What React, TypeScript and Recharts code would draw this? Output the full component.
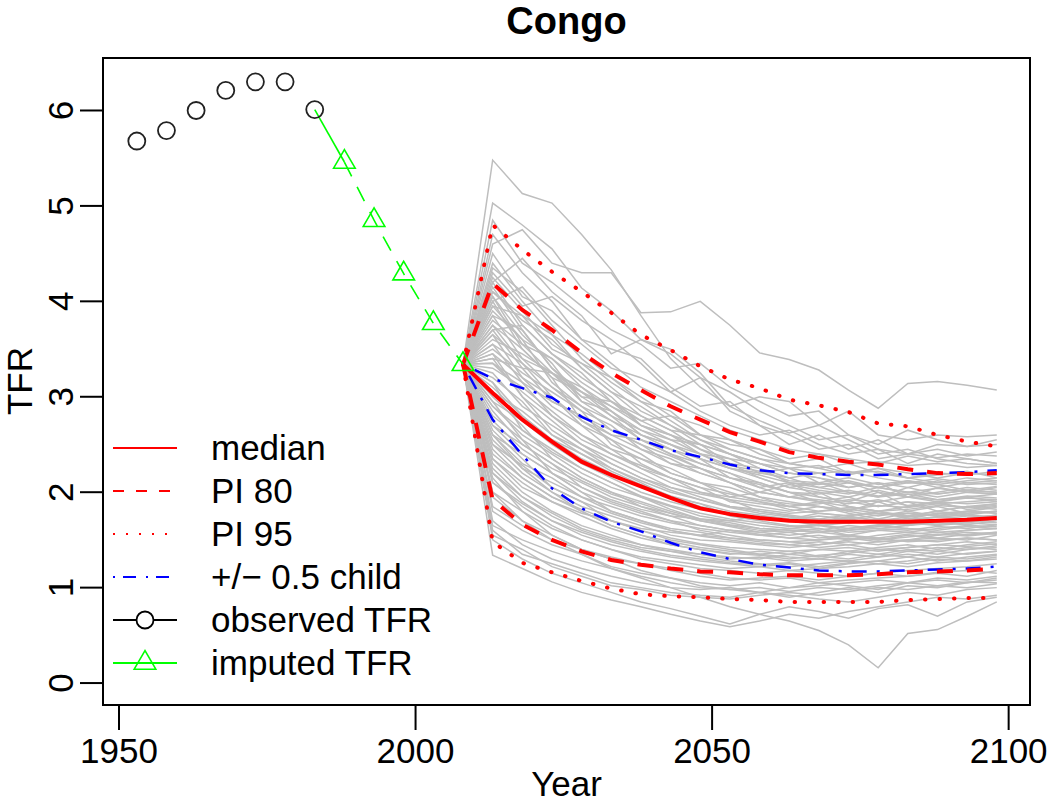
import React from 'react';
import { LineChart, Line, XAxis, YAxis, ReferenceArea } from 'recharts';

const FONT = '"Liberation Sans", Arial, sans-serif';

// observed and imputed past TFR
const observedYears = [1953, 1958, 1963, 1968, 1973, 1978, 1983];
const observedTFR = [5.68, 5.79, 6.0, 6.21, 6.3, 6.3, 6.01];
const imputedYears = [1988, 1993, 1998, 2003, 2008];
const imputedTFR = [5.46, 4.85, 4.29, 3.77, 3.34];

// projection periods
const projYears = [2008, 2013, 2018, 2023, 2028, 2033, 2038, 2043, 2048, 2053, 2058, 2063, 2068, 2073, 2078, 2083, 2088, 2093, 2098];
const median = [3.34, 3.04, 2.76, 2.53, 2.32, 2.18, 2.06, 1.94, 1.83, 1.77, 1.73, 1.7, 1.69, 1.69, 1.69, 1.69, 1.7, 1.71, 1.73];
const pi80Upper = [3.34, 4.19, 3.91, 3.7, 3.46, 3.25, 3.07, 2.9, 2.76, 2.63, 2.53, 2.42, 2.36, 2.32, 2.29, 2.24, 2.2, 2.19, 2.2];
const pi80Lower = [3.34, 1.92, 1.66, 1.5, 1.38, 1.29, 1.24, 1.2, 1.17, 1.16, 1.14, 1.13, 1.13, 1.13, 1.14, 1.16, 1.17, 1.18, 1.2];
const pi95Upper = [3.34, 4.8, 4.54, 4.31, 4.1, 3.88, 3.65, 3.49, 3.32, 3.18, 3.09, 2.97, 2.91, 2.84, 2.72, 2.69, 2.6, 2.53, 2.48];
const pi95Lower = [3.34, 1.48, 1.26, 1.16, 1.07, 0.99, 0.93, 0.91, 0.9, 0.88, 0.87, 0.85, 0.85, 0.85, 0.85, 0.87, 0.88, 0.89, 0.89];
const halfChildUp = [3.34, 3.19, 3.09, 2.99, 2.79, 2.65, 2.55, 2.44, 2.37, 2.29, 2.23, 2.2, 2.19, 2.18, 2.18, 2.19, 2.2, 2.21, 2.23];
const halfChildLow = [3.34, 2.76, 2.39, 2.04, 1.83, 1.69, 1.59, 1.47, 1.37, 1.3, 1.24, 1.21, 1.18, 1.17, 1.17, 1.18, 1.19, 1.2, 1.22];

// individual trajectories (gray)
const trajectories = [
  [3.34, 5.48, 5.13, 5.03, 4.7, 4.33, 3.85, 3.4, 3.1, 2.9, 2.75, 2.62, 2.7, 2.55, 2.4, 2.45, 2.35, 2.3, 2.28],
  [3.34, 5.03, 4.8, 4.55, 4.14, 3.9, 3.6, 3.45, 3.2, 3.05, 2.85, 2.7, 2.55, 2.6, 2.45, 2.3, 2.4, 2.35, 2.3],
  [3.34, 4.6, 4.75, 4.4, 4.3, 4.3, 3.88, 3.89, 4.0, 3.75, 3.46, 3.39, 3.28, 3.07, 2.88, 3.14, 3.16, 3.12, 3.07],
  [3.34, 4.85, 4.4, 4.2, 3.95, 3.7, 3.55, 3.3, 3.35, 3.1, 2.95, 2.8, 2.85, 2.6, 2.5, 2.65, 2.55, 2.48, 2.5],
  [3.34, 4.2, 4.45, 4.1, 3.85, 3.45, 3.6, 3.5, 3.25, 2.9, 3.0, 2.95, 2.7, 2.85, 2.6, 2.55, 2.6, 2.58, 2.6],
  [3.34, 4.3, 3.95, 4.05, 3.8, 3.6, 3.35, 3.05, 3.2, 2.85, 2.7, 2.5, 2.6, 2.45, 2.55, 2.4, 2.5, 2.48, 2.55],
  [3.34, 4.1, 3.8, 3.6, 3.3, 3.05, 2.9, 2.7, 2.55, 2.4, 2.3, 2.2, 2.15, 2.1, 2.05, 2.0, 1.95, 2.0, 1.98],
  [3.34, 3.95, 3.85, 3.5, 3.35, 3.2, 2.95, 2.85, 2.6, 2.5, 2.45, 2.3, 2.35, 2.2, 2.25, 2.15, 2.1, 2.15, 2.12],
  [3.34, 3.8, 3.55, 3.4, 3.1, 2.9, 2.75, 2.6, 2.4, 2.35, 2.2, 2.25, 2.1, 2.05, 2.1, 1.95, 2.05, 2.0, 2.05],
  [3.34, 4.15, 3.7, 3.3, 3.05, 2.8, 2.55, 2.45, 2.3, 2.2, 2.05, 2.1, 1.95, 1.9, 2.0, 1.85, 1.9, 1.95, 1.9],
  [3.34, 3.6, 3.45, 3.25, 2.95, 2.85, 2.6, 2.5, 2.35, 2.15, 2.1, 2.0, 1.9, 1.95, 1.85, 1.9, 1.8, 1.85, 1.88],
  [3.34, 3.9, 3.6, 3.15, 2.9, 2.65, 2.5, 2.3, 2.25, 2.1, 2.0, 1.95, 2.0, 1.85, 1.8, 1.85, 1.9, 1.82, 1.85],
  [3.34, 3.7, 3.75, 3.45, 3.2, 3.0, 2.7, 2.55, 2.5, 2.3, 2.15, 2.05, 2.1, 2.0, 1.95, 2.05, 1.98, 2.02, 2.0],
  [3.34, 3.5, 3.25, 3.05, 2.85, 2.7, 2.45, 2.35, 2.2, 2.1, 1.95, 1.9, 1.85, 1.8, 1.9, 1.8, 1.85, 1.78, 1.8],
  [3.34, 4.0, 3.5, 3.2, 2.75, 2.55, 2.4, 2.2, 2.1, 2.05, 1.95, 1.85, 1.9, 1.8, 1.75, 1.8, 1.75, 1.8, 1.78],
  [3.34, 3.4, 3.3, 2.95, 2.8, 2.6, 2.55, 2.4, 2.25, 2.15, 2.05, 1.95, 1.9, 1.85, 1.8, 1.75, 1.8, 1.85, 1.82],
  [3.34, 3.85, 3.4, 3.1, 2.85, 2.5, 2.35, 2.25, 2.1, 1.95, 1.9, 1.85, 1.8, 1.82, 1.78, 1.75, 1.8, 1.76, 1.8],
  [3.34, 3.65, 3.2, 2.9, 2.7, 2.55, 2.3, 2.15, 2.05, 1.9, 1.85, 1.8, 1.85, 1.78, 1.72, 1.78, 1.75, 1.72, 1.76],
  [3.34, 3.3, 3.1, 2.85, 2.6, 2.45, 2.35, 2.2, 2.1, 2.0, 1.9, 1.82, 1.78, 1.75, 1.8, 1.72, 1.78, 1.74, 1.75],
  [3.34, 4.05, 3.65, 3.35, 2.95, 2.75, 2.6, 2.45, 2.35, 2.25, 2.2, 2.15, 2.05, 2.1, 2.0, 1.95, 2.0, 2.05, 2.02],
  [3.34, 3.1, 2.8, 2.55, 2.35, 2.2, 2.05, 1.95, 1.85, 1.78, 1.72, 1.7, 1.65, 1.68, 1.7, 1.66, 1.7, 1.72, 1.74],
  [3.34, 2.9, 2.6, 2.4, 2.2, 2.05, 1.95, 1.85, 1.75, 1.7, 1.65, 1.62, 1.6, 1.65, 1.62, 1.65, 1.68, 1.66, 1.7],
  [3.34, 2.75, 2.45, 2.25, 2.1, 1.95, 1.85, 1.78, 1.7, 1.65, 1.6, 1.58, 1.62, 1.55, 1.6, 1.58, 1.62, 1.65, 1.64],
  [3.34, 2.6, 2.3, 2.15, 1.95, 1.85, 1.75, 1.68, 1.62, 1.58, 1.55, 1.52, 1.55, 1.5, 1.55, 1.58, 1.55, 1.6, 1.62],
  [3.34, 3.2, 2.95, 2.6, 2.45, 2.25, 2.1, 1.95, 1.88, 1.75, 1.7, 1.65, 1.62, 1.58, 1.6, 1.62, 1.58, 1.6, 1.62],
  [3.34, 2.5, 2.2, 2.0, 1.85, 1.75, 1.65, 1.55, 1.5, 1.48, 1.45, 1.42, 1.45, 1.48, 1.45, 1.5, 1.52, 1.5, 1.55],
  [3.34, 2.85, 2.5, 2.3, 2.05, 1.9, 1.8, 1.7, 1.6, 1.55, 1.5, 1.48, 1.5, 1.52, 1.48, 1.5, 1.55, 1.58, 1.56],
  [3.34, 2.4, 2.15, 1.95, 1.8, 1.65, 1.55, 1.45, 1.4, 1.35, 1.38, 1.35, 1.4, 1.38, 1.42, 1.45, 1.4, 1.45, 1.48],
  [3.34, 3.0, 2.7, 2.35, 2.15, 2.0, 1.85, 1.75, 1.65, 1.6, 1.55, 1.58, 1.52, 1.55, 1.5, 1.55, 1.52, 1.56, 1.58],
  [3.34, 2.3, 2.0, 1.8, 1.65, 1.55, 1.45, 1.4, 1.35, 1.3, 1.32, 1.28, 1.3, 1.35, 1.32, 1.38, 1.35, 1.4, 1.42],
  [3.34, 2.65, 2.35, 2.05, 1.9, 1.7, 1.6, 1.5, 1.45, 1.4, 1.35, 1.38, 1.33, 1.3, 1.35, 1.32, 1.38, 1.35, 1.38],
  [3.34, 2.2, 1.9, 1.7, 1.55, 1.45, 1.38, 1.32, 1.28, 1.25, 1.22, 1.25, 1.2, 1.25, 1.28, 1.25, 1.3, 1.28, 1.32],
  [3.34, 2.95, 2.55, 2.2, 2.0, 1.8, 1.7, 1.6, 1.55, 1.52, 1.48, 1.45, 1.42, 1.45, 1.4, 1.42, 1.45, 1.48, 1.45],
  [3.34, 2.1, 1.85, 1.65, 1.5, 1.4, 1.3, 1.25, 1.2, 1.18, 1.15, 1.18, 1.15, 1.12, 1.15, 1.18, 1.2, 1.22, 1.25],
  [3.34, 3.15, 2.65, 2.45, 2.25, 2.1, 1.95, 1.82, 1.72, 1.68, 1.62, 1.6, 1.58, 1.6, 1.62, 1.6, 1.64, 1.62, 1.66],
  [3.34, 2.55, 2.25, 2.1, 1.95, 1.8, 1.7, 1.62, 1.58, 1.52, 1.5, 1.48, 1.45, 1.5, 1.52, 1.48, 1.5, 1.52, 1.5],
  [3.34, 1.95, 1.7, 1.55, 1.4, 1.3, 1.25, 1.2, 1.15, 1.1, 1.08, 1.1, 1.05, 1.08, 1.1, 1.12, 1.15, 1.12, 1.18],
  [3.34, 1.8, 1.6, 1.45, 1.35, 1.22, 1.15, 1.1, 1.05, 1.02, 1.05, 1.0, 1.02, 1.05, 1.08, 1.05, 1.1, 1.08, 1.12],
  [3.34, 1.34, 1.2, 1.06, 0.95, 0.87, 0.8, 0.72, 0.65, 0.59, 0.65, 0.72, 0.68, 0.75, 0.8, 0.85, 0.9, 0.88, 0.92],
  [3.34, 1.6, 1.35, 1.25, 1.15, 1.05, 1.0, 0.95, 0.92, 0.9, 0.95, 0.92, 0.88, 0.85, 0.9, 0.95, 0.92, 0.98, 1.0],
  [3.34, 2.0, 1.7, 1.5, 1.35, 1.2, 1.1, 1.0, 0.9, 0.8, 0.72, 0.65, 0.55, 0.4, 0.16, 0.52, 0.56, 0.7, 0.85],
  [3.34, 1.5, 1.3, 1.15, 1.05, 0.95, 0.85, 0.78, 0.7, 0.62, 0.72, 0.8, 0.75, 0.68, 0.78, 0.82, 0.7, 0.85, 0.9],
  [3.34, 2.15, 1.8, 1.55, 1.4, 1.3, 1.18, 1.1, 1.02, 0.98, 0.95, 0.9, 0.95, 1.0, 0.95, 1.02, 1.0, 1.05, 1.08],
  [3.34, 1.7, 1.45, 1.3, 1.2, 1.12, 1.05, 1.0, 0.98, 1.0, 0.95, 1.0, 1.05, 1.02, 0.98, 1.05, 1.08, 1.05, 1.1],
  [3.34, 3.45, 3.0, 2.75, 2.5, 2.3, 2.15, 2.05, 1.98, 1.92, 1.88, 1.85, 1.88, 1.92, 1.9, 1.95, 1.92, 1.96, 1.94],
  [3.34, 2.7, 2.4, 2.2, 2.05, 1.92, 1.82, 1.75, 1.72, 1.7, 1.75, 1.72, 1.78, 1.75, 1.7, 1.74, 1.78, 1.8, 1.84],
  [3.34, 3.55, 3.15, 2.8, 2.55, 2.4, 2.25, 2.1, 2.0, 1.95, 2.0, 2.08, 2.02, 1.98, 2.05, 2.1, 2.08, 2.12, 2.15],
  [3.34, 2.35, 2.05, 1.9, 1.78, 1.7, 1.62, 1.58, 1.55, 1.6, 1.58, 1.62, 1.65, 1.6, 1.64, 1.68, 1.65, 1.68, 1.66],
  [3.34, 3.75, 3.35, 3.0, 2.7, 2.45, 2.25, 2.15, 2.0, 1.92, 1.8, 1.75, 1.7, 1.72, 1.68, 1.65, 1.7, 1.68, 1.72],
  [3.34, 2.25, 1.95, 1.75, 1.6, 1.5, 1.42, 1.38, 1.35, 1.32, 1.3, 1.35, 1.32, 1.38, 1.35, 1.4, 1.38, 1.42, 1.4],
  [3.34, 4.35, 4.1, 3.75, 3.4, 3.15, 2.95, 2.75, 2.55, 2.45, 2.35, 2.25, 2.28, 2.2, 2.22, 2.15, 2.2, 2.18, 2.22],
  [3.34, 4.5, 4.05, 3.9, 3.6, 3.35, 3.1, 2.95, 2.8, 2.65, 2.55, 2.45, 2.4, 2.35, 2.3, 2.38, 2.32, 2.35, 2.3],
  [3.34, 4.25, 3.9, 3.55, 3.35, 3.1, 2.85, 2.7, 2.5, 2.4, 2.25, 2.15, 2.2, 2.1, 2.05, 2.12, 2.08, 2.02, 2.06],
  [3.34, 3.95, 3.6, 3.4, 3.15, 2.95, 2.8, 2.65, 2.45, 2.3, 2.25, 2.1, 2.05, 2.0, 1.95, 1.98, 1.92, 1.95, 1.98],
  [3.34, 4.1, 3.85, 3.65, 3.45, 3.2, 3.0, 2.8, 2.7, 2.55, 2.4, 2.3, 2.25, 2.3, 2.2, 2.15, 2.18, 2.22, 2.15],
  [3.34, 3.75, 3.5, 3.2, 3.05, 2.85, 2.65, 2.55, 2.4, 2.25, 2.15, 2.05, 2.0, 1.95, 2.02, 1.95, 1.9, 1.94, 1.92],
  [3.34, 3.55, 3.35, 3.1, 2.9, 2.75, 2.55, 2.4, 2.3, 2.2, 2.1, 2.0, 1.95, 1.9, 1.85, 1.9, 1.88, 1.84, 1.86],
  [3.34, 4.2, 3.75, 3.45, 3.25, 2.95, 2.7, 2.6, 2.45, 2.35, 2.3, 2.2, 2.15, 2.05, 2.1, 2.05, 2.12, 2.08, 2.1],
  [3.34, 3.85, 3.7, 3.3, 3.0, 2.8, 2.65, 2.5, 2.35, 2.25, 2.18, 2.1, 2.08, 2.12, 2.05, 2.0, 2.04, 2.0, 1.98],
  [3.34, 3.45, 3.2, 3.0, 2.75, 2.6, 2.45, 2.3, 2.2, 2.1, 2.0, 1.95, 1.92, 1.88, 1.92, 1.86, 1.9, 1.88, 1.9],
  [3.34, 4.4, 4.0, 3.65, 3.3, 3.05, 2.8, 2.65, 2.6, 2.45, 2.35, 2.3, 2.25, 2.18, 2.25, 2.2, 2.15, 2.2, 2.18],
  [3.34, 3.65, 3.4, 3.25, 3.05, 2.9, 2.7, 2.6, 2.5, 2.4, 2.3, 2.25, 2.2, 2.22, 2.15, 2.1, 2.14, 2.1, 2.08],
  [3.34, 4.05, 3.55, 3.25, 3.1, 2.85, 2.6, 2.5, 2.4, 2.28, 2.22, 2.12, 2.1, 2.15, 2.08, 2.12, 2.05, 2.1, 2.12],
  [3.34, 3.35, 3.15, 2.95, 2.8, 2.65, 2.5, 2.38, 2.25, 2.15, 2.08, 2.0, 1.98, 2.02, 1.96, 2.0, 1.98, 2.02, 2.0],
  [3.34, 3.25, 2.9, 2.7, 2.5, 2.35, 2.2, 2.05, 1.95, 1.85, 1.8, 1.76, 1.72, 1.76, 1.78, 1.74, 1.77, 1.8, 1.78],
  [3.34, 2.95, 2.75, 2.5, 2.3, 2.15, 2.0, 1.9, 1.82, 1.78, 1.74, 1.7, 1.72, 1.68, 1.72, 1.7, 1.74, 1.72, 1.76],
  [3.34, 3.05, 2.85, 2.6, 2.4, 2.25, 2.12, 2.0, 1.92, 1.85, 1.82, 1.78, 1.8, 1.84, 1.8, 1.82, 1.86, 1.84, 1.88],
  [3.34, 2.8, 2.55, 2.35, 2.15, 2.0, 1.9, 1.8, 1.72, 1.66, 1.62, 1.6, 1.58, 1.62, 1.65, 1.62, 1.6, 1.64, 1.62],
  [3.34, 3.35, 3.05, 2.8, 2.6, 2.4, 2.28, 2.15, 2.05, 1.98, 1.92, 1.88, 1.85, 1.82, 1.86, 1.84, 1.88, 1.9, 1.92],
  [3.34, 2.7, 2.5, 2.3, 2.12, 1.98, 1.88, 1.78, 1.7, 1.64, 1.58, 1.55, 1.58, 1.55, 1.52, 1.56, 1.58, 1.55, 1.58],
  [3.34, 3.15, 2.8, 2.55, 2.4, 2.22, 2.08, 1.96, 1.88, 1.8, 1.76, 1.72, 1.75, 1.72, 1.76, 1.78, 1.75, 1.78, 1.8],
  [3.34, 2.6, 2.4, 2.2, 2.0, 1.88, 1.78, 1.7, 1.65, 1.6, 1.56, 1.52, 1.5, 1.54, 1.5, 1.53, 1.56, 1.54, 1.57],
  [3.34, 2.9, 2.65, 2.42, 2.25, 2.1, 1.96, 1.86, 1.78, 1.72, 1.68, 1.64, 1.66, 1.62, 1.66, 1.68, 1.66, 1.7, 1.68],
  [3.34, 3.4, 3.0, 2.65, 2.45, 2.3, 2.15, 2.02, 1.92, 1.84, 1.78, 1.74, 1.7, 1.74, 1.7, 1.72, 1.74, 1.76, 1.74],
  [3.34, 2.45, 2.15, 1.95, 1.82, 1.7, 1.6, 1.52, 1.46, 1.42, 1.4, 1.38, 1.4, 1.42, 1.38, 1.42, 1.45, 1.43, 1.46],
  [3.34, 2.2, 1.95, 1.78, 1.62, 1.52, 1.45, 1.38, 1.32, 1.28, 1.25, 1.22, 1.25, 1.28, 1.25, 1.28, 1.32, 1.3, 1.34],
  [3.34, 2.0, 1.8, 1.62, 1.5, 1.4, 1.32, 1.28, 1.24, 1.2, 1.22, 1.18, 1.2, 1.22, 1.25, 1.22, 1.26, 1.28, 1.3],
  [3.34, 2.35, 2.1, 1.9, 1.75, 1.62, 1.52, 1.45, 1.4, 1.36, 1.34, 1.3, 1.34, 1.36, 1.4, 1.38, 1.42, 1.4, 1.44],
  [3.34, 1.85, 1.65, 1.5, 1.4, 1.32, 1.25, 1.18, 1.12, 1.08, 1.1, 1.12, 1.08, 1.12, 1.15, 1.12, 1.16, 1.18, 1.15],
  [3.34, 2.6, 2.25, 2.0, 1.8, 1.65, 1.55, 1.48, 1.42, 1.38, 1.35, 1.32, 1.3, 1.28, 1.32, 1.35, 1.32, 1.36, 1.38],
  [3.34, 1.65, 1.5, 1.38, 1.28, 1.2, 1.12, 1.05, 1.0, 0.98, 1.0, 0.96, 1.0, 0.98, 1.02, 1.05, 1.02, 1.06, 1.05],
  [3.34, 2.1, 1.88, 1.7, 1.58, 1.48, 1.4, 1.34, 1.3, 1.26, 1.24, 1.26, 1.22, 1.26, 1.28, 1.32, 1.28, 1.32, 1.35],
  [3.34, 2.5, 2.28, 2.05, 1.9, 1.78, 1.68, 1.6, 1.54, 1.5, 1.46, 1.45, 1.48, 1.45, 1.48, 1.5, 1.48, 1.52, 1.5],
  [3.34, 1.55, 1.4, 1.22, 1.12, 1.02, 0.98, 0.92, 0.9, 0.88, 0.92, 0.95, 0.92, 0.96, 1.0, 0.98, 1.02, 1.0, 1.04],
  [3.34, 4.7, 4.3, 4.0, 3.6, 3.5, 3.4, 3.1, 2.9, 2.95, 2.7, 2.6, 2.45, 2.5, 2.35, 2.4, 2.45, 2.38, 2.42],
  [3.34, 4.0, 4.15, 3.8, 3.55, 3.3, 3.2, 3.05, 2.85, 2.7, 2.6, 2.65, 2.5, 2.4, 2.45, 2.4, 2.36, 2.4, 2.38],
  [3.34, 3.7, 3.3, 3.25, 3.0, 2.95, 2.75, 2.8, 2.6, 2.55, 2.45, 2.35, 2.4, 2.3, 2.32, 2.28, 2.3, 2.26, 2.28],
];

const xTicks = [1950, 2000, 2050, 2100];
const yTicks = [0, 1, 2, 3, 4, 5, 6];
const xDomain = [1947.3, 2103.6];
const yDomain = [-0.23, 6.55];

const legendLabels = ['median', 'PI 80', 'PI 95', '+/\u2212 0.5 child', 'observed TFR', 'imputed TFR'];

// one row per year, each series only where it has values
const allYears = Array.from(new Set([...observedYears, ...imputedYears, ...projYears])).sort((a, b) => a - b);
const rows = allYears.map(year => {
  const row: Record<string, number | undefined> = { year };
  const o = observedYears.indexOf(year);
  if (o >= 0) row.obs = observedTFR[o];
  const m = imputedYears.indexOf(year);
  if (m >= 0) row.imp = imputedTFR[m];
  // solid link from last observed to first imputed point
  if (year === observedYears[observedYears.length - 1]) row.link = observedTFR[o];
  if (year === imputedYears[0]) row.link = imputedTFR[0];
  const p = projYears.indexOf(year);
  if (p >= 0) {
    row.median = median[p];
    row.pi80u = pi80Upper[p];
    row.pi80l = pi80Lower[p];
    row.pi95u = pi95Upper[p];
    row.pi95l = pi95Lower[p];
    row.hcu = halfChildUp[p];
    row.hcl = halfChildLow[p];
    trajectories.forEach((t, i) => { row[`t${i}`] = t[p]; });
  }
  return row;
});

const TriangleDot = (props: any) => {
  const { cx, cy, index } = props;
  if (cx == null || cy == null) return <g key={`tri-${index}`} />;
  return (
    <polygon
      key={`tri-${index}`}
      points={`${cx},${cy - 12.4} ${cx - 10.8},${cy + 6.2} ${cx + 10.8},${cy + 6.2}`}
      fill="none"
      stroke="#00FF00"
      strokeWidth={1.6}
    />
  );
};

const XTick = (props: any) => (
  <text x={props.x} y={props.y + 33} textAnchor="middle" fontSize={35} fontFamily={FONT} fill="#000">
    {props.payload.value}
  </text>
);

const YTick = (props: any) => {
  const x = 72.6;
  return (
    <text x={x} y={props.y} transform={`rotate(-90, ${x}, ${props.y})`} textAnchor="middle" fontSize={35} fontFamily={FONT} fill="#000">
      {props.payload.value}
    </text>
  );
};

const LegendSample = ({ i, y }: { i: number; y: number }) => {
  const x1 = 113, x2 = 177, xm = 145;
  switch (i) {
    case 0:
      return <line x1={x1} x2={x2} y1={y} y2={y} stroke="#FF0000" strokeWidth={2} />;
    case 1:
      return <line x1={x1} x2={x2} y1={y} y2={y} stroke="#FF0000" strokeWidth={2} strokeDasharray="11 12" />;
    case 2:
      return <line x1={x1} x2={x2} y1={y} y2={y} stroke="#FF0000" strokeWidth={2} strokeDasharray="2 11" />;
    case 3:
      return <line x1={x1} x2={x2} y1={y} y2={y} stroke="#0000FF" strokeWidth={2} strokeDasharray="2 8 13 10" />;
    case 4:
      return (
        <g>
          <line x1={x1} x2={x2} y1={y} y2={y} stroke="#000" strokeWidth={2} />
          <circle cx={xm} cy={y} r={8.5} fill="#fff" stroke="#000" strokeWidth={1.8} />
        </g>
      );
    default:
      return (
        <g>
          <line x1={x1} x2={x2} y1={y} y2={y} stroke="#00FF00" strokeWidth={2} />
          <polygon points={`${xm},${y - 12.4} ${xm - 10.8},${y + 6.2} ${xm + 10.8},${y + 6.2}`} fill="none" stroke="#00FF00" strokeWidth={1.6} />
        </g>
      );
  }
};

export default function App() {
  const legendTop = 448;
  const legendStep = 43;

  return (
    <div style={{ position: 'relative', width: 1050, height: 805, background: '#fff', overflow: 'hidden' }}>
      <style>{'body{margin:0}'}</style>
      <LineChart width={1050} height={805} data={rows} margin={{ top: 58, right: 20, left: 0, bottom: 0 }}>
        <XAxis
          dataKey="year"
          type="number"
          domain={xDomain}
          ticks={xTicks}
          allowDataOverflow
          interval={0}
          axisLine={false}
          tickSize={25}
          tickMargin={0}
          tickLine={{ stroke: '#000', strokeWidth: 2 }}
          tick={XTick}
          height={100}
        />
        <YAxis
          type="number"
          domain={yDomain}
          ticks={yTicks}
          allowDataOverflow
          interval={0}
          axisLine={false}
          tickSize={23}
          tickMargin={0}
          tickLine={{ stroke: '#000', strokeWidth: 2 }}
          tick={YTick}
          width={103}
        />

        {trajectories.map((_, i) => (
          <Line
            key={`t${i}`}
            dataKey={`t${i}`}
            type="linear"
            stroke="#BEBEBE"
            strokeWidth={1.5}
            dot={false}
            isAnimationActive={false}
          />
        ))}

        <Line dataKey="hcu" type="linear" stroke="#0000FF" strokeWidth={2.5} strokeDasharray="3 10 15 10" dot={false} isAnimationActive={false} />
        <Line dataKey="hcl" type="linear" stroke="#0000FF" strokeWidth={2.5} strokeDasharray="3 10 15 10" dot={false} isAnimationActive={false} />
        <Line dataKey="pi95u" type="linear" stroke="#FF0000" strokeWidth={4} strokeLinecap="round" strokeDasharray="0.5 14" dot={false} isAnimationActive={false} />
        <Line dataKey="pi95l" type="linear" stroke="#FF0000" strokeWidth={4} strokeLinecap="round" strokeDasharray="0.5 14" dot={false} isAnimationActive={false} />
        <Line dataKey="pi80u" type="linear" stroke="#FF0000" strokeWidth={4} strokeDasharray="16 14" dot={false} isAnimationActive={false} />
        <Line dataKey="pi80l" type="linear" stroke="#FF0000" strokeWidth={4} strokeDasharray="16 14" dot={false} isAnimationActive={false} />
        <Line dataKey="median" type="linear" stroke="#FF0000" strokeWidth={4} dot={false} isAnimationActive={false} />

        <Line dataKey="link" type="linear" stroke="#00FF00" strokeWidth={1.6} dot={false} isAnimationActive={false} />
        <Line dataKey="imp" type="linear" stroke="#00FF00" strokeWidth={1.6} strokeDasharray="16 12" dot={TriangleDot} isAnimationActive={false} />
        <Line
          dataKey="obs"
          type="linear"
          stroke="none"
          dot={{ r: 8.5, stroke: '#222', strokeWidth: 1.8, fill: 'none' }}
          isAnimationActive={false}
        />

        <ReferenceArea
          x1={xDomain[0]}
          x2={xDomain[1]}
          y1={yDomain[0]}
          y2={yDomain[1]}
          fill="none"
          stroke="#000"
          strokeWidth={2}
          ifOverflow="visible"
        />
      </LineChart>

      <svg width={1050} height={805} style={{ position: 'absolute', left: 0, top: 0, pointerEvents: 'none' }} fontFamily={FONT}>
        <text x={566.5} y={34} textAnchor="middle" fontSize={38} fontWeight="bold" fill="#000">Congo</text>
        <text x={32} y={381} transform="rotate(-90, 32, 381)" textAnchor="middle" fontSize={35} fill="#000">TFR</text>
        <text x={566.5} y={796} textAnchor="middle" fontSize={35} fill="#000">Year</text>
        {legendLabels.map((label, i) => {
          const y = legendTop + i * legendStep;
          return (
            <g key={label}>
              <LegendSample i={i} y={y} />
              <text x={211} y={y + 12} fontSize={35} fill="#000">{label}</text>
            </g>
          );
        })}
      </svg>
    </div>
  );
}
